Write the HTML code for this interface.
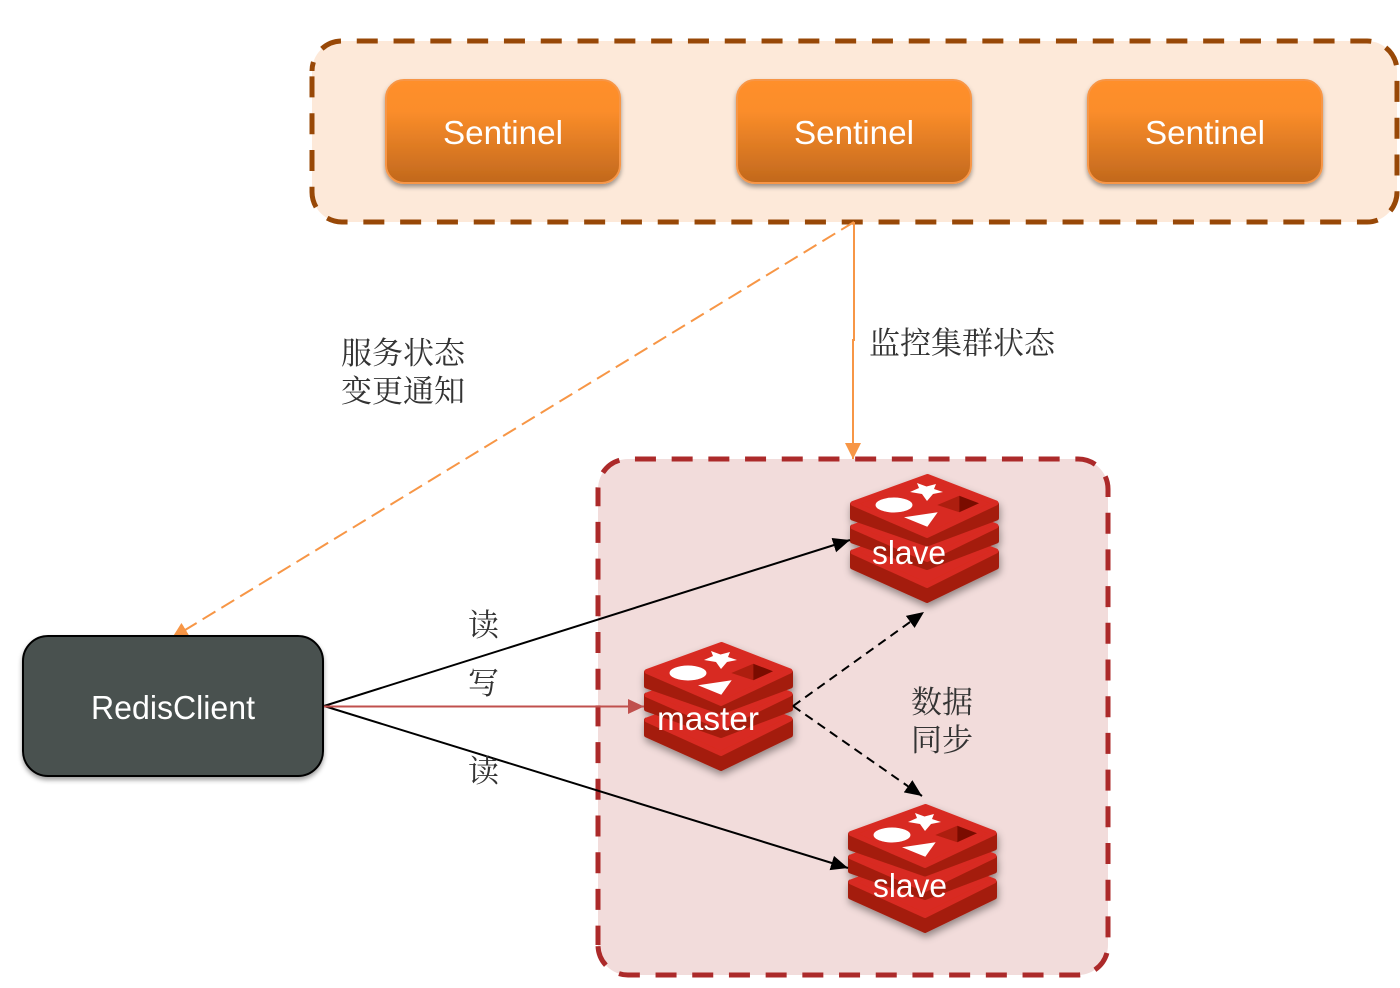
<!DOCTYPE html>
<html lang="zh">
<head>
<meta charset="utf-8">
<title>Redis Sentinel</title>
<style>
html,body{margin:0;padding:0;background:#fff;width:1400px;height:988px;overflow:hidden}
svg{display:block}
.en{font-family:"Liberation Sans",sans-serif;fill:#fff;text-anchor:middle}
.zh{font-family:"Liberation Serif","Noto Serif CJK SC",serif;font-size:31px;fill:#333;font-weight:400}
</style>
</head>
<body>
<svg width="1400" height="988" viewBox="0 0 1400 988" xmlns="http://www.w3.org/2000/svg">
<defs>
<linearGradient id="og" x1="0" y1="0" x2="0" y2="1">
<stop offset="0" stop-color="#ff8f2a"/><stop offset=".3" stop-color="#fb8d2a"/><stop offset="1" stop-color="#c1681d"/>
</linearGradient>
<filter id="sh" x="-10%" y="-10%" width="120%" height="130%"><feDropShadow dx="0" dy="3" stdDeviation="2.5" flood-color="#000" flood-opacity=".38"/></filter>
<filter id="lsh" x="-15%" y="-15%" width="130%" height="135%"><feDropShadow dx="1" dy="4" stdDeviation="4" flood-color="#000" flood-opacity=".4"/></filter>
<marker id="ao" markerUnits="userSpaceOnUse" markerWidth="18" markerHeight="18" refX="16" refY="9" orient="auto"><path d="M0,1L16,9L0,17z" fill="#f79646"/></marker>
<marker id="ab" markerUnits="userSpaceOnUse" markerWidth="18" markerHeight="18" refX="17" refY="9" orient="auto"><path d="M0,1.500L17,9L0,16.500z" fill="#000"/></marker>
<marker id="ar" markerUnits="userSpaceOnUse" markerWidth="18" markerHeight="18" refX="16" refY="9" orient="auto"><path d="M0,1.500L16,9L0,16.500z" fill="#c0504d"/></marker>
<g id="logo">
<g filter="url(#lsh)" stroke-width="5" stroke-linejoin="round">
<polygon points="2.500,78 146.500,78 146.500,93 77,126.500 2.500,93" fill="#a41e11" stroke="#a41e11"/>
<polygon points="3,78 77,50 146,77 77,111.500" fill="#d82c20" stroke="#d82c20"/>
<polygon points="2.500,53 146.500,53 146.500,67 77,93.500 2.500,67" fill="#a41e11" stroke="#a41e11"/>
<polygon points="3,53 77,25 146,52 77,85.500" fill="#d82c20" stroke="#d82c20"/>
<polygon points="2.500,30 146.500,30 146.500,44 77,70 2.500,44" fill="#a41e11" stroke="#a41e11"/>
<polygon points="3,29.500 77.500,2.500 146,29 77,61.500" fill="#d82c20" stroke="#d82c20"/>
</g>
<ellipse cx="44" cy="31" rx="18.500" ry="7.500" fill="#fff"/>
<path d="M67,9L76.500,12.500L86,10L84,15L93,18L83,20L77,27L72,20L60,18L69,14z" fill="#fff"/>
<path d="M54,43.300L87.700,38.300L77.300,52.700z" fill="#fff"/>
<path d="M87.300,31L109.300,21.700V38.300z" fill="#ad1e0f"/>
<path d="M109.300,21.700L129,29.300L109.300,38.300z" fill="#7a0c00"/>
</g>
</defs>

<path d="M312,71A30,30 0 0 1 342,41H1367A30,30 0 0 1 1397,71V192A30,30 0 0 1 1367,222H342A30,30 0 0 1 312,192z" fill="#fde9d9" stroke="#984807" stroke-width="5" stroke-dasharray="21 15.800" stroke-dashoffset="11.800"/>

<g>
<rect x="386" y="80" width="234" height="103" rx="18" fill="url(#og)" stroke="#f79646" stroke-width="2" filter="url(#sh)"/>
<rect x="737" y="80" width="234" height="103" rx="18" fill="url(#og)" stroke="#f79646" stroke-width="2" filter="url(#sh)"/>
<rect x="1088" y="80" width="234" height="103" rx="18" fill="url(#og)" stroke="#f79646" stroke-width="2" filter="url(#sh)"/>
<text class="en" x="503" y="144" font-size="33" textLength="120" lengthAdjust="spacingAndGlyphs">Sentinel</text>
<text class="en" x="854" y="144" font-size="33" textLength="120" lengthAdjust="spacingAndGlyphs">Sentinel</text>
<text class="en" x="1205" y="144" font-size="33" textLength="120" lengthAdjust="spacingAndGlyphs">Sentinel</text>
</g>

<rect x="598" y="459" width="510" height="516" rx="30" fill="#f2dcdb"/>
<path d="M598,489A30,30 0 0 1 628,459H1078A30,30 0 0 1 1108,489V945A30,30 0 0 1 1078,975H628A30,30 0 0 1 598,945" fill="none" stroke="#ac2a2a" stroke-width="5" stroke-dasharray="21 15.700" stroke-dashoffset="19.400"/>
<path d="M598,945V489" fill="none" stroke="#ac2a2a" stroke-width="5" stroke-dasharray="21 15.700" stroke-dashoffset="1.600"/>

<line x1="854" y1="222" x2="172" y2="638" stroke="#f79646" stroke-width="2" stroke-dasharray="15 7" marker-end="url(#ao)"/>
<path d="M854,222V340H853V459" fill="none" stroke="#f79646" stroke-width="2" marker-end="url(#ao)"/>

<rect x="23" y="636" width="300" height="140" rx="25" fill="#495150" stroke="#000" stroke-width="2" filter="url(#sh)"/>
<text class="en" x="173" y="719" font-size="33" textLength="164" lengthAdjust="spacingAndGlyphs">RedisClient</text>

<use href="#logo" x="850" y="474"/>
<use href="#logo" x="644" y="642"/>
<use href="#logo" x="848" y="804"/>

<text class="en" x="909" y="564" font-size="33" textLength="74" lengthAdjust="spacingAndGlyphs">slave</text>
<text class="en" x="708" y="730" font-size="33" textLength="102" lengthAdjust="spacingAndGlyphs">master</text>
<text class="en" x="910" y="897" font-size="33" textLength="74" lengthAdjust="spacingAndGlyphs">slave</text>

<line x1="324" y1="706" x2="850" y2="540" stroke="#000" stroke-width="2" marker-end="url(#ab)"/>
<line x1="324" y1="706" x2="848" y2="868" stroke="#000" stroke-width="2" marker-end="url(#ab)"/>
<line x1="324" y1="706.500" x2="644" y2="706.500" stroke="#c0504d" stroke-width="2" marker-end="url(#ar)"/>
<line x1="793" y1="706" x2="924" y2="612" stroke="#000" stroke-width="2" stroke-dasharray="9 6" marker-end="url(#ab)"/>
<line x1="793" y1="706" x2="922" y2="796" stroke="#000" stroke-width="2" stroke-dasharray="9 6" marker-end="url(#ab)"/>

<text class="zh" x="341" y="364">服务状态</text>
<text class="zh" x="341" y="402">变更通知</text>
<text class="zh" x="869" y="354">监控集群状态</text>
<text class="zh" x="468" y="636">读</text>
<text class="zh" x="468" y="694">写</text>
<text class="zh" x="468" y="782">读</text>
<text class="zh" x="911" y="713">数据</text>
<text class="zh" x="911" y="751">同步</text>
</svg>
</body>
</html>
